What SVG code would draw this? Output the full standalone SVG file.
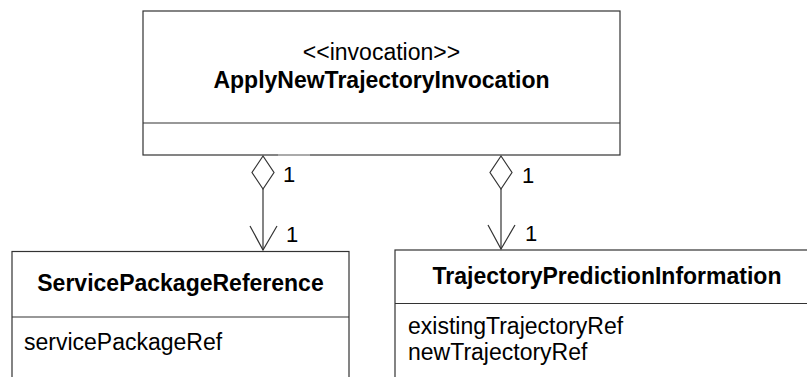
<svg xmlns="http://www.w3.org/2000/svg" width="807" height="377" viewBox="0 0 807 377">
<style>
.box{fill:#fff;stroke:#333;stroke-width:1.2}
.ln{stroke:#333;stroke-width:1.2;fill:none}
.t{font-family:"Liberation Sans",Arial,sans-serif;font-size:23px;fill:#000}
.b{font-weight:bold}
.m{text-anchor:middle}
.mul{font-family:"Liberation Sans",Arial,sans-serif;font-size:22px;fill:#000}
</style>
<rect width="807" height="377" fill="#fff"/>
<g id="ApplyNewTrajectoryInvocation">
<rect class="box" x="143" y="11" width="477" height="144"/>
<line class="ln" x1="143" y1="123" x2="620" y2="123"/>
<line x1="278" y1="155" x2="310" y2="155" stroke="#bbb" stroke-width="1.4"/>
<text class="t m" x="381.5" y="60">&lt;&lt;invocation&gt;&gt;</text>
<text class="t b m" x="381.5" y="88">ApplyNewTrajectoryInvocation</text>
</g>
<g id="ServicePackageReference">
<rect class="box" x="12" y="251.5" width="337" height="140"/>
<line class="ln" x1="12" y1="317" x2="349" y2="317"/>
<text class="t b m" x="180.5" y="291">ServicePackageReference</text>
<text class="t" x="24" y="350">servicePackageRef</text>
</g>
<g id="TrajectoryPredictionInformation">
<rect class="box" x="395" y="250" width="424" height="140"/>
<line class="ln" x1="395" y1="303.5" x2="819" y2="303.5"/>
<text class="t b m" x="607" y="283.5">TrajectoryPredictionInformation</text>
<text class="t" x="408" y="334">existingTrajectoryRef</text>
<text class="t" x="408" y="360">newTrajectoryRef</text>
</g>
<g id="connectors">
<g id="c1">
<polygon class="ln" points="263,156 274,172.5 263,189 252,172.5" fill="#fff"/>
<line class="ln" x1="263" y1="189" x2="263" y2="250"/>
<polyline class="ln" points="250,226 263,250 277,226"/>
<text class="mul" x="283" y="182">1</text>
<text class="mul" x="286" y="242">1</text>
</g>
<g id="c2">
<polygon class="ln" points="501,156 512,172.5 501,189 490,172.5" fill="#fff"/>
<line class="ln" x1="501" y1="189" x2="501" y2="249"/>
<polyline class="ln" points="488,225 501,249 515,225"/>
<text class="mul" x="522" y="183">1</text>
<text class="mul" x="525" y="241">1</text>
</g>
</g>
</svg>
